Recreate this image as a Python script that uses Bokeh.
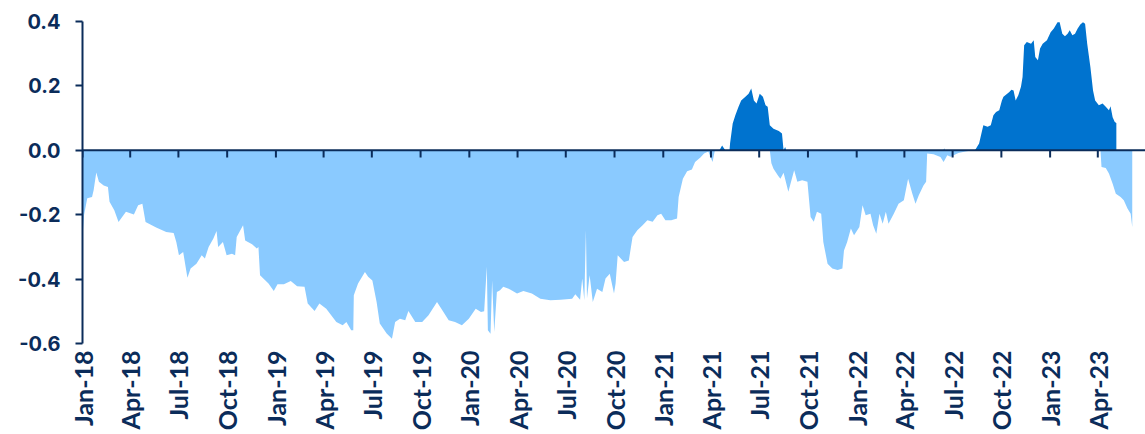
import math
import pandas as pd
from bokeh.plotting import figure
from bokeh.models import (Range1d, FixedTicker, DatetimeTickFormatter,
                          NumeralTickFormatter, Span, ColumnDataSource)
from bokeh.embed import file_html
from bokeh.resources import INLINE

# ---------------- data ----------------
neg_dates = [
    "2018-01-01", "2018-01-04", "2018-01-10", "2018-01-19", "2018-01-22", "2018-01-27",
    "2018-02-01", "2018-02-10", "2018-02-18", "2018-02-21", "2018-03-02", "2018-03-10",
    "2018-03-24", "2018-04-08", "2018-04-16", "2018-04-24", "2018-04-30", "2018-05-20",
    "2018-06-08", "2018-06-22", "2018-06-27", "2018-07-02", "2018-07-10", "2018-07-18",
    "2018-07-24", "2018-08-04", "2018-08-14", "2018-08-20", "2018-08-27", "2018-09-05",
    "2018-09-11", "2018-09-14", "2018-09-23", "2018-09-30", "2018-10-10", "2018-10-16",
    "2018-10-19", "2018-10-31", "2018-11-04", "2018-11-17", "2018-11-26", "2018-11-29",
    "2018-12-02", "2018-12-18", "2018-12-28", "2019-01-04", "2019-01-16", "2019-01-29",
    "2019-02-10", "2019-02-24", "2019-03-02", "2019-03-15", "2019-03-24", "2019-04-06",
    "2019-04-25", "2019-05-07", "2019-05-14", "2019-05-23", "2019-05-27", "2019-05-28",
    "2019-06-05", "2019-06-18", "2019-06-24", "2019-07-02", "2019-07-10", "2019-07-16",
    "2019-07-29", "2019-08-08", "2019-08-14", "2019-08-23", "2019-09-02", "2019-09-08",
    "2019-09-21", "2019-10-04", "2019-10-16", "2019-11-01", "2019-11-11", "2019-11-23",
    "2019-12-05", "2019-12-18", "2019-12-31", "2020-01-13", "2020-01-23", "2020-01-29",
    "2020-02-03", "2020-02-05", "2020-02-10", "2020-02-13", "2020-02-17", "2020-02-22",
    "2020-02-28", "2020-03-05", "2020-03-18", "2020-03-31", "2020-04-12", "2020-04-28",
    "2020-05-14", "2020-06-02", "2020-06-21", "2020-07-13", "2020-07-19", "2020-07-28",
    "2020-08-01", "2020-08-05", "2020-08-08", "2020-08-10", "2020-08-15", "2020-08-21",
    "2020-08-29", "2020-09-08", "2020-09-14", "2020-09-22", "2020-09-30", "2020-10-03",
    "2020-10-07", "2020-10-19", "2020-10-28", "2020-11-04", "2020-11-13", "2020-11-23",
    "2020-12-02", "2020-12-12", "2020-12-21", "2020-12-28", "2021-01-05", "2021-01-16",
    "2021-01-27", "2021-01-30", "2021-02-07", "2021-02-15", "2021-02-24", "2021-03-02",
    "2021-03-12", "2021-03-19", "2021-03-27", "2021-04-04", "2021-04-08", "2021-04-12",
    "2021-07-21", "2021-07-24", "2021-07-28", "2021-08-06", "2021-08-10", "2021-08-16",
    "2021-08-25", "2021-09-05", "2021-09-11", "2021-09-20", "2021-09-30", "2021-10-06",
    "2021-10-12", "2021-10-18", "2021-10-26", "2021-10-30", "2021-11-07", "2021-11-16",
    "2021-11-26", "2021-12-05", "2021-12-08", "2021-12-14", "2021-12-21", "2021-12-27",
    "2022-01-06", "2022-01-12", "2022-01-18", "2022-01-27", "2022-02-01", "2022-02-07",
    "2022-02-13", "2022-02-19", "2022-02-25", "2022-03-02", "2022-03-12", "2022-03-21",
    "2022-03-31", "2022-04-08", "2022-04-16", "2022-04-22", "2022-04-28", "2022-05-07",
    "2022-05-12", "2022-05-14", "2022-05-26", "2022-06-08", "2022-06-14", "2022-06-21",
    "2022-06-27", "2022-07-03", "2022-07-12", "2022-07-25", "2022-08-08", "2023-04-06",
    "2023-04-08", "2023-04-16", "2023-04-22", "2023-04-29", "2023-05-05", "2023-05-14",
    "2023-05-20", "2023-05-27", "2023-06-02", "2023-06-05",
]
neg_values = [
    -0.270, -0.200, -0.149, -0.145, -0.124, -0.069,
    -0.098, -0.109, -0.114, -0.160, -0.186, -0.223,
    -0.191, -0.199, -0.171, -0.166, -0.223, -0.240,
    -0.254, -0.257, -0.285, -0.326, -0.316, -0.396,
    -0.367, -0.352, -0.326, -0.336, -0.300, -0.274,
    -0.251, -0.300, -0.285, -0.326, -0.321, -0.326,
    -0.269, -0.233, -0.280, -0.292, -0.305, -0.300,
    -0.388, -0.414, -0.437, -0.416, -0.416, -0.406,
    -0.422, -0.424, -0.476, -0.499, -0.476, -0.492,
    -0.533, -0.543, -0.533, -0.559, -0.559, -0.450,
    -0.414, -0.378, -0.393, -0.404, -0.471, -0.538,
    -0.569, -0.585, -0.533, -0.523, -0.528, -0.499,
    -0.533, -0.533, -0.512, -0.471, -0.497, -0.528,
    -0.533, -0.543, -0.523, -0.492, -0.502, -0.500,
    -0.362, -0.559, -0.570, -0.404, -0.564, -0.440,
    -0.435, -0.424, -0.432, -0.445, -0.437, -0.445,
    -0.461, -0.466, -0.464, -0.461, -0.447, -0.464,
    -0.398, -0.466, -0.248, -0.460, -0.388, -0.471,
    -0.430, -0.440, -0.398, -0.383, -0.445, -0.414,
    -0.326, -0.347, -0.342, -0.269, -0.248, -0.233,
    -0.217, -0.222, -0.202, -0.197, -0.217, -0.217,
    -0.212, -0.145, -0.088, -0.065, -0.060, -0.036,
    -0.022, -0.010, -0.004, -0.036, -0.003, 0.000,
    0.000, -0.040, -0.057, -0.080, -0.088, -0.070,
    -0.129, -0.062, -0.098, -0.093, -0.098, -0.207,
    -0.222, -0.191, -0.197, -0.285, -0.352, -0.367,
    -0.372, -0.367, -0.311, -0.285, -0.243, -0.264,
    -0.238, -0.171, -0.202, -0.197, -0.233, -0.259,
    -0.197, -0.228, -0.191, -0.228, -0.197, -0.166,
    -0.155, -0.088, -0.135, -0.166, -0.140, -0.109,
    -0.098, -0.010, -0.012, -0.021, -0.036, -0.015,
    -0.020, -0.015, -0.008, -0.004, 0.000, 0.000,
    -0.052, -0.055, -0.072, -0.104, -0.135, -0.145,
    -0.155, -0.181, -0.197, -0.238,
]

pos_dates = [
    "2021-04-17", "2021-04-22", "2021-04-28", "2021-05-06", "2021-05-07", "2021-05-12",
    "2021-05-17", "2021-05-23", "2021-05-28", "2021-06-05", "2021-06-11", "2021-06-16",
    "2021-06-21", "2021-06-26", "2021-07-02", "2021-07-08", "2021-07-13", "2021-07-17",
    "2021-07-21", "2021-07-28", "2021-08-07", "2021-08-13", "2021-08-16", "2021-08-19",
    "2021-08-21", "2022-06-14", "2022-06-15", "2022-06-16", "2022-08-12", "2022-08-14",
    "2022-08-20", "2022-08-25", "2022-08-28", "2022-09-05", "2022-09-11", "2022-09-16",
    "2022-09-21", "2022-09-27", "2022-10-02", "2022-10-05", "2022-10-12", "2022-10-16",
    "2022-10-20", "2022-10-24", "2022-10-28", "2022-11-02", "2022-11-07", "2022-11-10",
    "2022-11-13", "2022-11-18", "2022-11-26", "2022-12-01", "2022-12-04", "2022-12-09",
    "2022-12-13", "2022-12-18", "2022-12-26", "2023-01-02", "2023-01-08", "2023-01-15",
    "2023-01-19", "2023-01-24", "2023-01-29", "2023-02-03", "2023-02-07", "2023-02-12",
    "2023-02-17", "2023-02-22", "2023-02-27", "2023-03-04", "2023-03-08", "2023-03-12",
    "2023-03-18", "2023-03-23", "2023-03-27", "2023-04-03", "2023-04-10", "2023-04-16",
    "2023-04-22", "2023-04-25", "2023-04-29", "2023-05-03", "2023-05-06",
]
pos_values = [
    0.000, 0.015, 0.000, 0.000, 0.021, 0.083,
    0.109, 0.135, 0.155, 0.166, 0.176, 0.192,
    0.155, 0.145, 0.176, 0.166, 0.140, 0.135,
    0.078, 0.067, 0.060, 0.052, 0.000, 0.010,
    0.000, 0.000, 0.006, 0.000, 0.000, 0.005,
    0.021, 0.057, 0.078, 0.073, 0.078, 0.109,
    0.119, 0.124, 0.155, 0.166, 0.176, 0.181,
    0.188, 0.186, 0.155, 0.171, 0.197, 0.228,
    0.326, 0.336, 0.331, 0.342, 0.290, 0.280,
    0.316, 0.331, 0.342, 0.367, 0.378, 0.398,
    0.398, 0.362, 0.354, 0.362, 0.373, 0.357,
    0.362, 0.378, 0.391, 0.398, 0.393, 0.331,
    0.259, 0.186, 0.155, 0.140, 0.145, 0.135,
    0.124, 0.137, 0.103, 0.088, 0.085,
]

tick_dates = [
    "2018-01-01", "2018-04-01", "2018-07-01", "2018-10-01",
    "2019-01-01", "2019-04-01", "2019-07-01", "2019-10-01",
    "2020-01-01", "2020-04-01", "2020-07-01", "2020-10-01",
    "2021-01-01", "2021-04-01", "2021-07-01", "2021-10-01",
    "2022-01-01", "2022-04-01", "2022-07-01", "2022-10-01",
    "2023-01-01", "2023-04-01", "2023-07-01",
]
y_ticks = [-0.6, -0.4, -0.2, 0.0, 0.2, 0.4]

# ---------------- styling ----------------
NAVY = "#0B2C5A"
LIGHT = "#8ACAFF"
DARK = "#0073CF"

neg_src = ColumnDataSource(dict(x=pd.to_datetime(neg_dates), y=neg_values))
pos_src = ColumnDataSource(dict(x=pd.to_datetime(pos_dates), y=pos_values))
tick_dt = pd.to_datetime(tick_dates)
tick_ms = [t.value // 10**6 for t in tick_dt]

p = figure(
    width=1145, height=434,
    x_axis_type="datetime",
    x_range=Range1d(pd.Timestamp("2018-01-01"), pd.Timestamp("2023-06-30")),
    y_range=Range1d(-0.6, 0.4),
    output_backend="svg", toolbar_location=None,
    min_border_left=82, min_border_right=0,
    min_border_top=21, min_border_bottom=91,
)
p.outline_line_color = None
p.xgrid.visible = False
p.ygrid.visible = False
p.background_fill_color = "white"
p.border_fill_color = "white"

p.varea(x="x", y1=0, y2="y", source=neg_src, fill_color=LIGHT)
p.varea(x="x", y1=0, y2="y", source=pos_src, fill_color=DARK)

p.add_layout(Span(location=0, dimension="width", line_color=NAVY, line_width=2))
p.segment(x0=tick_dt, y0=0, x1=tick_dt, y1=-0.022, line_color=NAVY, line_width=2)

# x axis: labels only (ticks drawn on the zero line)
xa = p.xaxis[0]
xa.ticker = FixedTicker(ticks=tick_ms)
xa.formatter = DatetimeTickFormatter(days="%b-%y", months="%b-%y", years="%b-%y")
xa.major_label_orientation = math.pi / 2
xa.axis_line_color = None
xa.major_tick_line_color = None
xa.minor_tick_line_color = None
xa.major_tick_out = 0
xa.major_tick_in = 0
xa.major_label_standoff = 7
xa.major_label_text_font = "Lato"
xa.major_label_text_font_size = "25px"
xa.major_label_text_font_style = "bold"
xa.major_label_text_color = NAVY

ya = p.yaxis[0]
ya.ticker = FixedTicker(ticks=y_ticks)
ya.formatter = NumeralTickFormatter(format="0.0")
ya.axis_line_color = NAVY
ya.axis_line_width = 2
ya.major_tick_line_color = NAVY
ya.major_tick_line_width = 2
ya.major_tick_out = 7
ya.major_tick_in = 0
ya.minor_tick_line_color = None
ya.major_label_standoff = 15
ya.major_label_text_font = "Inter"
ya.major_label_text_font_size = "20px"
ya.major_label_text_font_style = "bold"
ya.major_label_text_color = NAVY

open("out.html", "w").write(file_html(p, INLINE))
